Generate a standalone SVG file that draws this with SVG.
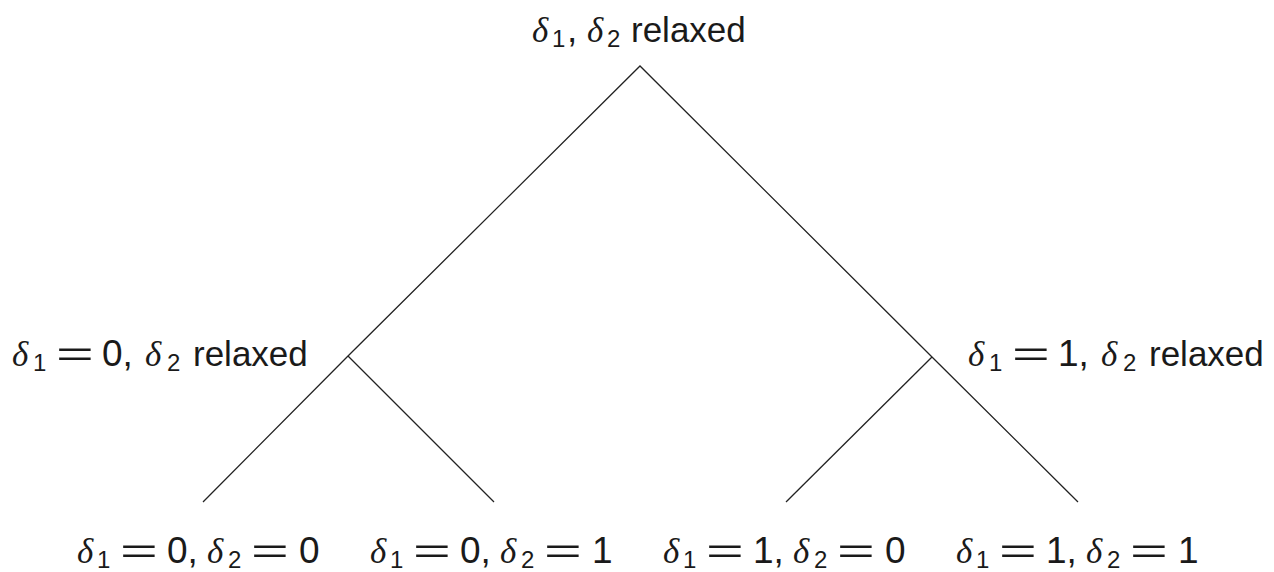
<svg xmlns="http://www.w3.org/2000/svg" width="1274" height="572" viewBox="0 0 1274 572">
<style>
text{fill:#1a1a1a;font-family:"Liberation Sans",Arial,sans-serif}
.d{font-family:"Liberation Serif","DejaVu Serif",serif;font-style:italic;font-size:35px}
.s{font-size:24px}
.n{font-size:37px}
.w{font-size:35px}
.e{font-size:36px}
.ln{stroke:#222;stroke-width:1.3;fill:none}
</style>
<defs>
<g id="eq"><text class="e" transform="scale(1.8,1)" x="0" y="0">=</text></g>
</defs>
<rect width="1274" height="572" fill="#fff"/>
<g id="connectors">
<polyline class="ln" points="203,502 348,356 640,66 932,357 1078,502"/>
<line class="ln" x1="348" y1="356" x2="494" y2="502"/>
<line class="ln" x1="932" y1="357" x2="786" y2="502"/>
</g>
<g id="root" transform="translate(532,42)">
<text class="d" x="0" y="0">δ</text><text class="s" x="20" y="5">1</text><text class="n" x="35" y="0">,</text>
<text class="d" x="55" y="0">δ</text><text class="s" x="75" y="5">2</text><text class="w" x="99" y="0">relaxed</text>
</g>
<g id="mid-left" transform="translate(12,366)">
<text class="d" x="0" y="0">δ</text><text class="s" x="21" y="5">1</text><use href="#eq" x="44" y="0"/><text class="n" x="90" y="0">0,</text>
<text class="d" x="133" y="0">δ</text><text class="s" x="155" y="5">2</text><text class="w" x="181" y="0">relaxed</text>
</g>
<g id="mid-right" transform="translate(968,366)">
<text class="d" x="0" y="0">δ</text><text class="s" x="21" y="5">1</text><use href="#eq" x="44" y="0"/><text class="n" x="90" y="0">1,</text>
<text class="d" x="133" y="0">δ</text><text class="s" x="155" y="5">2</text><text class="w" x="181" y="0">relaxed</text>
</g>
<g id="leaf-00" transform="translate(77,563)">
<text class="d" x="0" y="0">δ</text><text class="s" x="20" y="5">1</text><use href="#eq" x="43" y="0"/><text class="n" x="90" y="0">0,</text>
<text class="d" x="130" y="0">δ</text><text class="s" x="151" y="5">2</text><use href="#eq" x="174" y="0"/><text class="n" x="222" y="0">0</text>
</g>
<g id="leaf-01" transform="translate(370,563)">
<text class="d" x="0" y="0">δ</text><text class="s" x="20" y="5">1</text><use href="#eq" x="43" y="0"/><text class="n" x="90" y="0">0,</text>
<text class="d" x="130" y="0">δ</text><text class="s" x="151" y="5">2</text><use href="#eq" x="174" y="0"/><text class="n" x="222" y="0">1</text>
</g>
<g id="leaf-10" transform="translate(663,563)">
<text class="d" x="0" y="0">δ</text><text class="s" x="20" y="5">1</text><use href="#eq" x="43" y="0"/><text class="n" x="90" y="0">1,</text>
<text class="d" x="130" y="0">δ</text><text class="s" x="151" y="5">2</text><use href="#eq" x="174" y="0"/><text class="n" x="222" y="0">0</text>
</g>
<g id="leaf-11" transform="translate(956,563)">
<text class="d" x="0" y="0">δ</text><text class="s" x="20" y="5">1</text><use href="#eq" x="43" y="0"/><text class="n" x="90" y="0">1,</text>
<text class="d" x="130" y="0">δ</text><text class="s" x="151" y="5">2</text><use href="#eq" x="174" y="0"/><text class="n" x="222" y="0">1</text>
</g>
</svg>
